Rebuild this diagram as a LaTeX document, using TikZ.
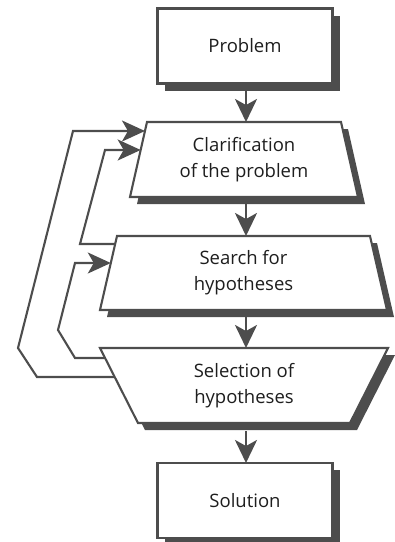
\documentclass[tikz,border=0pt]{standalone}
\usepackage{fontspec}
\setmainfont{Open Sans}
\usetikzlibrary{calc,arrows.meta,shadows,backgrounds}
\definecolor{ink}{HTML}{4D4D4D}
\definecolor{txt}{HTML}{1E1E1E}
\begin{document}
\begin{tikzpicture}[x=1pt,y=-1pt,
  shadowed/.style={drop shadow={shadow xshift=7pt,shadow yshift=-7pt,fill=ink,opacity=1}},
  frame/.style={draw=ink,line width=2.1pt,fill=white,line join=miter,shadowed},
  boxnode/.style={frame,minimum width=175pt,minimum height=75pt,inner sep=0pt,outer sep=0pt,
    text=txt,font=\fontsize{18.5}{26}\selectfont},
  bodytext/.style={inner sep=0pt,outer sep=0pt,text=txt,align=center,
    font=\fontsize{18.5}{26}\selectfont},
  flow/.style={draw=ink,line width=2.5pt,-{Stealth[length=23pt,width=22pt,inset=6pt]}},
  back/.style={draw=ink,line width=2.1pt,line join=miter,-{Stealth[length=23pt,width=21pt,inset=6pt]}}]
\useasboundingbox (0,0) rectangle (395,542);

% rectangular start and end steps
\node[boxnode] (prob) at (245,46) {Problem};
\node[boxnode] (sol) at (245,500.5) {Solution};

% text holders of the three slanted steps
\node[bodytext,minimum width=228pt,minimum height=75pt] (clar) at (244,159.5) {Clarification\\of the problem};
\node[bodytext,minimum width=287pt,minimum height=74pt] (srch) at (243.5,273) {Search for\\hypotheses};
\node[bodytext,minimum width=288pt,minimum height=75pt] (sel) at (244,385.5) {Selection of\\hypotheses};

% corner points of the slanted outlines
\coordinate (clar-tl) at ($(clar.north west)+(17,0)$);
\coordinate (clar-tr) at ($(clar.north east)+(-17,0)$);
\coordinate (srch-tl) at ($(srch.north west)+(17,0)$);
\coordinate (srch-tr) at ($(srch.north east)+(-17,0)$);
\coordinate (sel-bl) at ($(sel.south west)+(38,0)$);
\coordinate (sel-br) at ($(sel.south east)+(-38,0)$);

\begin{scope}[on background layer]
  \path[frame] (clar-tl) -- (clar-tr) -- (clar.south east) -- (clar.south west) -- cycle;
  \path[frame] (srch-tl) -- (srch-tr) -- (srch.south east) -- (srch.south west) -- cycle;
  \path[frame] (sel.north west) -- (sel.north east) -- (sel-br) -- (sel-bl) -- cycle;
\end{scope}

% main sequence
\draw[flow] ($(prob.south)+(1,7)$) -- ($(clar.north)+(2,0)$);
\draw[flow] ($(clar.south)+(2,7)$) -- ($(srch.north)+(2.5,0)$);
\draw[flow] ($(srch.south)+(2.5,7)$) -- ($(sel.north)+(2,0)$);
\draw[flow] ($(sel.south)+(2,8)$) -- ($(sol.north)+(1,0)$);

% points where the feedback lines meet the slanted sides
\coordinate (clarA) at ($(clar-tl)!0.12!(clar.south west)$);
\coordinate (clarB) at ($(clar-tl)!0.373!(clar.south west)$);
\coordinate (srchA) at ($(srch-tl)!0.108!(srch.south west)$);
\coordinate (srchB) at ($(srch-tl)!0.365!(srch.south west)$);
\coordinate (selA) at ($(sel.north west)!0.387!(sel-bl)$);
\coordinate (selB) at ($(sel.north west)!0.133!(sel-bl)$);

% feedback loops
\draw[back] (selA) -- (37,377) -- (18,348) -- (73,131) -- (clarA);
\draw[back] (srchA) -- (80,244) -- (105,150) -- (clarB);
\draw[back] (selB) -- (75,358) -- (58,330) -- (75,263) -- (srchB);
\end{tikzpicture}
\end{document}
